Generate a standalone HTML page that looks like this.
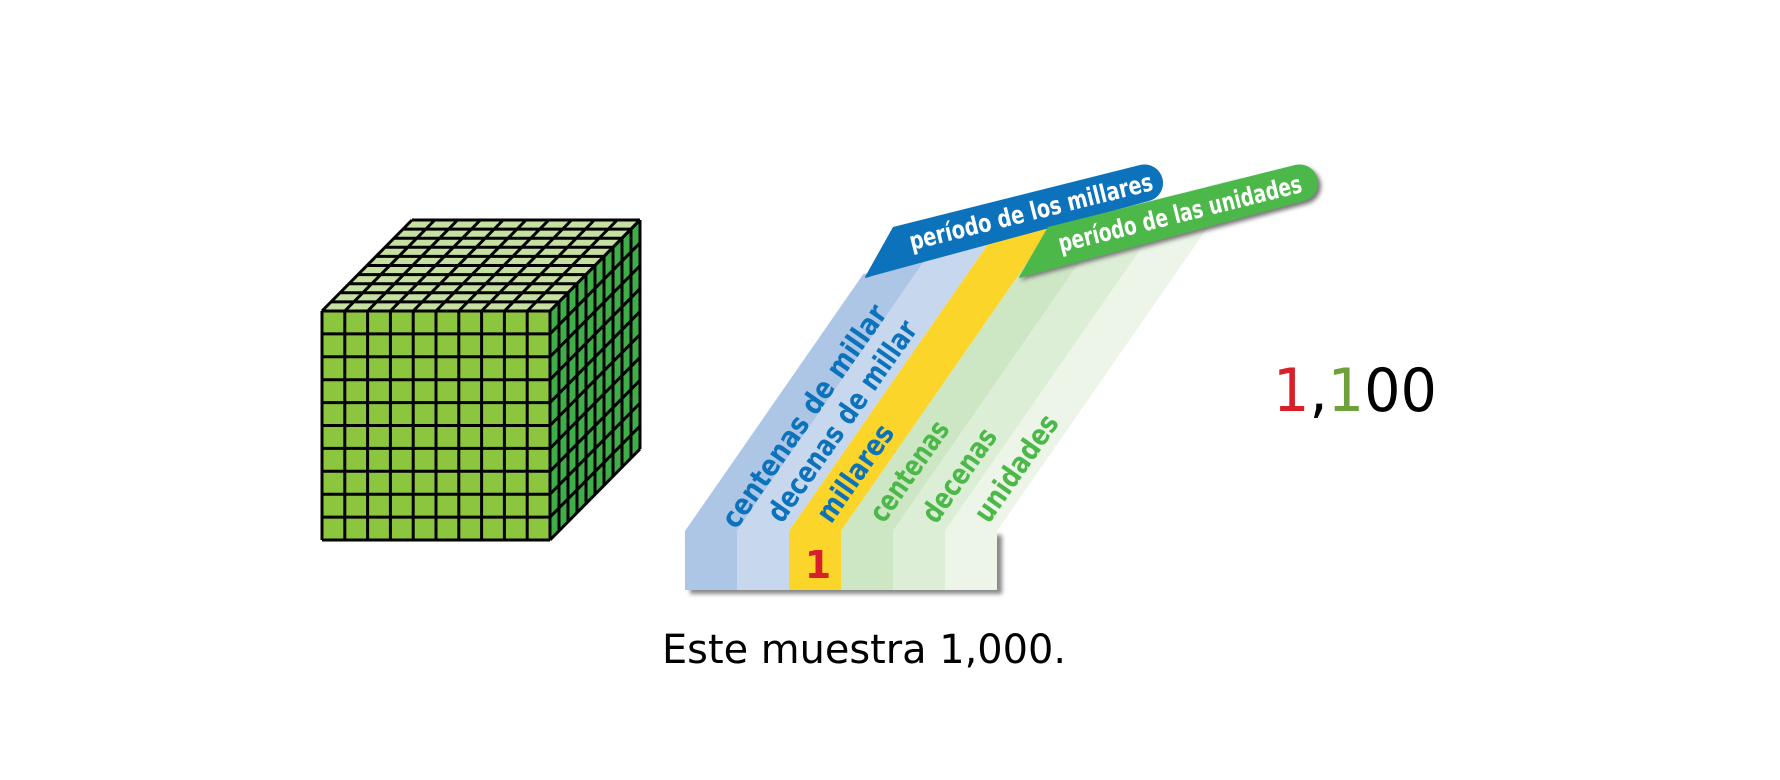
<!DOCTYPE html>
<html><head><meta charset="utf-8"><style>
html,body{margin:0;padding:0;background:#fff;}
svg{display:block;}
</style></head><body>
<svg width="1780" height="780" viewBox="0 0 1780 780" xmlns="http://www.w3.org/2000/svg">
<defs>
<g id="grid">
<path vector-effect="non-scaling-stroke" stroke="#000" stroke-width="3" d="M0 0H10M0 1H10M0 2H10M0 3H10M0 4H10M0 5H10M0 6H10M0 7H10M0 8H10M0 9H10M0 10H10M0 0V10M1 0V10M2 0V10M3 0V10M4 0V10M5 0V10M6 0V10M7 0V10M8 0V10M9 0V10M10 0V10" fill="none"/>
</g>
<clipPath id="cl"><polygon points="680,600 680,321 1400,137 1400,600"/></clipPath>
<filter id="sh" x="-10%" y="-10%" width="130%" height="140%"><feGaussianBlur stdDeviation="2"/></filter>
</defs>

<!-- cube -->
<polygon points="322,311 550,311 550,540 322,540" fill="#8cc63f"/>
<polygon points="412,220 640,220 550,311 322,311" fill="#c5e0a0"/>
<polygon points="550,311 640,220 640,449 550,540" fill="#3fae49"/>
<use href="#grid" transform="matrix(22.8,0,0,22.9,322,311)"/>
<use href="#grid" transform="matrix(22.8,0,-9,9.1,412,220)"/>
<use href="#grid" transform="matrix(9,-9.1,0,22.9,550,311)"/>

<!-- shadow under chart -->
<rect x="690" y="535" width="312" height="59" fill="#888" filter="url(#sh)"/>

<!-- columns -->
<g clip-path="url(#cl)">
<polygon points="685,590 685,531 984,100 1036,100 737,531 737,590" fill="#adc6e6"/>
<polygon points="737,590 737,531 1036,100 1088,100 789,531 789,590" fill="#c7d7ee"/>
<polygon points="789,590 789,531 1088,100 1140,100 841,531 841,590" fill="#fcd52b"/>
<polygon points="841,590 841,531 1140,100 1192,100 893,531 893,590" fill="#cde6c4"/>
<polygon points="893,590 893,531 1192,100 1244,100 945,531 945,590" fill="#ddeed6"/>
<polygon points="945,590 945,531 1244,100 1296,100 997,531 997,590" fill="#ecf5e8"/>
</g>

<!-- banners -->
<path d="M1022,276 Q1020,278 1018,277 L1048,227 L1295,165 A18.5,18.5 0 0 1 1304,201 Z" fill="#777" filter="url(#sh)" transform="translate(3,3)"/>
<path d="M872,276 Q864,279 865,277 L893,227 L1140,165 A18.5,18.5 0 0 1 1149,201 Z" fill="#0b72bb"/>
<path d="M1026,276 Q1018,279 1019,277 L1048,227 L1295,165 A18.5,18.5 0 0 1 1304,201 Z" fill="#4db84a"/>

<g font-family="'DejaVu Sans','Liberation Sans',sans-serif" font-weight="bold">
<text x="1033" y="220" fill="#fff" font-size="25" text-anchor="middle" transform="rotate(-14 1033 220)" textLength="250" lengthAdjust="spacingAndGlyphs">período de los millares</text>
<text x="1182" y="222" fill="#fff" font-size="25" text-anchor="middle" transform="rotate(-14 1182 222)" textLength="250" lengthAdjust="spacingAndGlyphs">período de las unidades</text>

<text x="804" y="426" fill="#0b72bb" font-size="29" text-anchor="middle" transform="rotate(-55 804 416)" textLength="265" lengthAdjust="spacingAndGlyphs">centenas de millar</text>
<text x="842" y="431" fill="#0b72bb" font-size="29" text-anchor="middle" transform="rotate(-55 842 421)" textLength="238" lengthAdjust="spacingAndGlyphs">decenas de millar</text>
<text x="855" y="483" fill="#0b72bb" font-size="29" text-anchor="middle" transform="rotate(-55 855 473)" textLength="112" lengthAdjust="spacingAndGlyphs">millares</text>
<text x="909" y="481" fill="#4db84a" font-size="29" text-anchor="middle" transform="rotate(-55 909 471)" textLength="116" lengthAdjust="spacingAndGlyphs">centenas</text>
<text x="959" y="485" fill="#4db84a" font-size="29" text-anchor="middle" transform="rotate(-55 959 475)" textLength="108" lengthAdjust="spacingAndGlyphs">decenas</text>
<text x="1016" y="478" fill="#4db84a" font-size="29" text-anchor="middle" transform="rotate(-55 1016 468)" textLength="124" lengthAdjust="spacingAndGlyphs">unidades</text>

<text x="818" y="578" fill="#d9202a" font-size="38" text-anchor="middle">1</text>
</g>

<text x="1273" y="411" font-family="'DejaVu Sans','Liberation Sans',sans-serif" font-size="60" textLength="164" lengthAdjust="spacingAndGlyphs"><tspan fill="#d9202a">1</tspan><tspan fill="#000">,</tspan><tspan fill="#6ea13c">1</tspan><tspan fill="#000">00</tspan></text>

<text x="662" y="663" font-family="'DejaVu Sans','Liberation Sans',sans-serif" font-size="40" fill="#000" textLength="404" lengthAdjust="spacingAndGlyphs">Este muestra 1,000.</text>
</svg>
</body></html>
